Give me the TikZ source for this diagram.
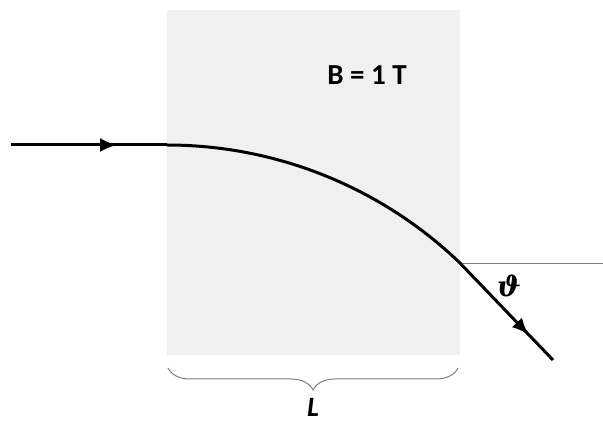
\documentclass[tikz,border=0pt]{standalone}
\usepackage{amsmath}
\usepackage{fontspec}
\setmainfont{Carlito}
\newfontfamily\greekfont{DejaVu Serif}
\usetikzlibrary{arrows.meta,decorations.pathreplacing,decorations.markings,calc}

\begin{document}
\begin{tikzpicture}[x=1pt,y=1pt]

\tikzset{
    beam/.style={line width=3pt, black},
    tip/.style={postaction={decorate}, decoration={markings,
        mark=at position #1 with {\arrow{Latex[length=17pt,width=14pt]}}}},
    tag/.style={font=\fontsize{29}{31}\selectfont\bfseries}
}
\useasboundingbox (0,0) rectangle (603,426);
\fill[black!6] (167,71) rectangle (460,416);
\coordinate (in) at (11,281);
\coordinate (entry) at (167,281);
\coordinate (exit) at (460.1,162.8);
\coordinate (out) at (553,66);
\coordinate (ref) at (603,162.8);
\draw[gray, line width=1.3pt] (exit) -- (ref);
\draw[beam, tip=0.68] (in) -- (entry);
\draw[beam] (entry) arc[start angle=90, end angle=46.1, radius=422.8];
\draw[beam, tip=0.74] (exit) -- (out);
\node[tag] (field) at (367,351) {B = 1 T};
\node[tag, font=\fontsize{28}{30}\selectfont\greekfont\bfseries\itshape] (theta) at (509,140) {ϑ};
\coordinate (bl) at (168,58);
\coordinate (br) at (458,58);
\draw[gray, line width=1pt, decorate, decoration={brace, mirror, amplitude=22pt}] (bl) -- (br);
\node[tag, inner sep=0pt, font=\fontsize{28}{30}\selectfont\bfseries\itshape] (len) at (313,19) {L};
\end{tikzpicture}
\end{document}
